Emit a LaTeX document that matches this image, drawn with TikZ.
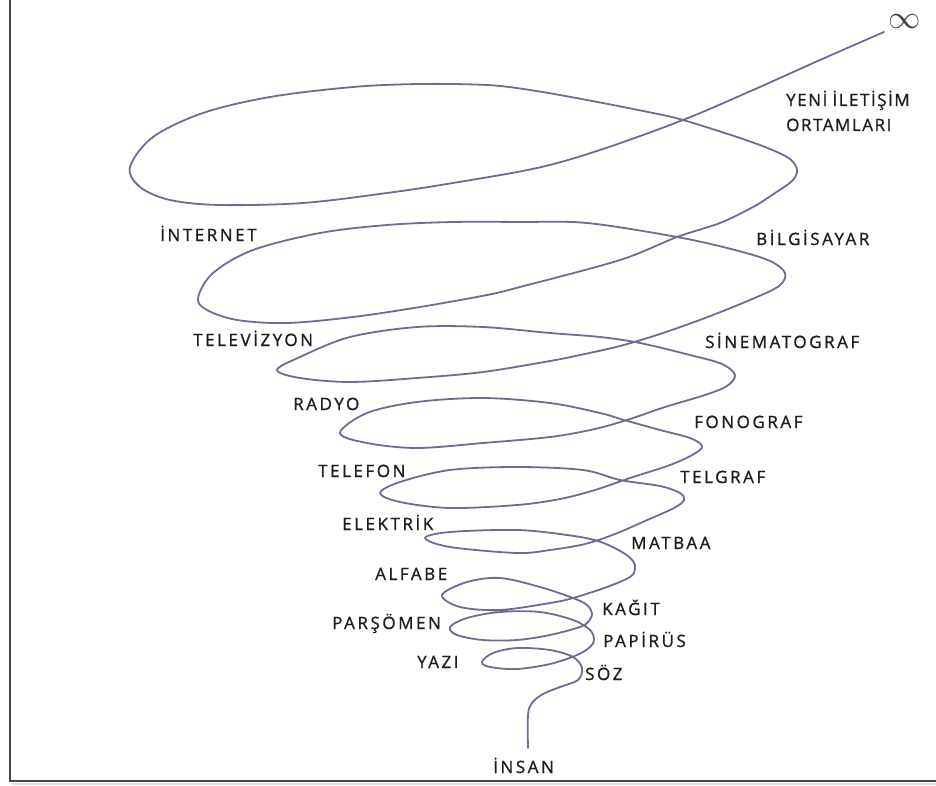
\documentclass[tikz,border=0pt]{standalone}
\usepackage{fontspec}
\setmainfont[LetterSpace=15,FakeBold=1]{Open Sans}
\newfontfamily\yenifont[LetterSpace=9,FakeBold=1]{Open Sans}
\definecolor{spiralc}{RGB}{108,108,150}
\definecolor{labelc}{RGB}{30,30,30}
\definecolor{framec}{RGB}{70,70,70}
\begin{document}
\begin{tikzpicture}[x=1pt,y=-1pt,
  lab/.style={anchor=base west, inner sep=0pt, font=\fontsize{17}{20}\selectfont, text=labelc},
  spiralline/.style={draw=spiralc, line width=1.8pt, line cap=round, line join=round}]
\useasboundingbox (0,0) rectangle (936,786);
\fill[white] (0,0) rectangle (936,786);
% frame
\draw[gray!25, line width=2pt] (12,783.5) -- (936,783.5);
\draw[framec, line width=2.2pt] (10,0) -- (10,781) -- (936,781);
% spiral
\draw[spiralline] plot[smooth, tension=0.55] coordinates {
 (884,32) (820,60) (753,90) (683,120) (600,150) (537,168) (453,183) (387,193) (303,203) (220,205) (170,200) (140,187) (130,167) (153,137) (203,113) (270,97) (353,87) (420,84) (487,85) (530,90) (587,100) (653,113) (683,120) (737,137) (770,149) (790,159) (797,170) (792,181) (772,195) (753,207) (720,223) (677,237) (620,260) (520,287) (487,295) (420,307) (353,317) (287,323) (237,320) (207,310) (198,298) (213,273) (253,250) (320,233) (387,225) (453,222) (520,222) (587,223) (677,237) (735,250) (770,261) (785,273) (779,286) (750,300)
 (705,318) (660,334) (620,346) (580,355) (550,361) (483,372) (417,378) (350,382) (300,378) (277,370) (300,357) (350,337) (417,327) (483,327) (550,333) (600,337) (640,343) (690,355) (722,364) (735,375) (727,386) (705,395)
 (665,407) (630,419) (595,429) (550,437) (483,443) (417,448) (367,443) (340,433) (367,413) (417,402) (483,398) (550,403) (600,413) (624,420) (660,430) (690,438) (702,446) (694,454) (670,465)
 (630,478) (595,490) (560,499) (517,505) (450,508) (400,502) (380,493) (400,482) (450,470) (517,467) (583,470) (620,480) (660,486) (680,493) (684,500) (674,508)
 (645,521) (615,534) (585,544) (550,550) (517,553) (450,547) (425,538) (450,532) (517,530) (567,535) (598,541) (622,552) (633,561) (635,569)
 (630,577) (607,587) (573,598) (550,603) (500,610) (460,607) (442,595) (467,582) (500,578) (540,587) (573,598) (587,605) (592,614)
 (588,622) (580,627) (550,635) (517,640) (483,640) (457,635) (450,627) (467,618) (500,612) (540,612) (573,620) (590,630) (594,640)
 (590,647) (577,655) (550,664) (517,669) (490,667) (482,662) (493,653) (517,648) (550,650) (573,657) (582,668)
 (578,680) (560,687) (543,694) (532,703) (528,715) (528,748)
};
% infinity
\node[inner sep=0pt, text=black!75, scale=1.3] (inf) at (905,22) {\Huge$\infty$};
% labels
\node[lab, font=\fontsize{17}{20}\yenifont] (yeni) at (786,106) {YENİ\hspace{0.3em}İLETİŞİM};
\node[lab, font=\fontsize{17}{20}\yenifont] (ortam) at (786,131) {ORTAMLARI};
\node[lab] (internet) at (160,241) {İNTERNET};
\node[lab] (bilgi) at (756,245) {BİLGİSAYAR};
\node[lab] (tv) at (193,346) {TELEVİZYON};
\node[lab] (sinema) at (705,348) {SİNEMATOGRAF};
\node[lab] (radyo) at (293,410) {RADYO};
\node[lab] (fono) at (694,428) {FONOGRAF};
\node[lab] (telefon) at (318,477) {TELEFON};
\node[lab] (telgraf) at (680,483) {TELGRAF};
\node[lab] (elektrik) at (342,530) {ELEKTRİK};
\node[lab] (matbaa) at (631,549) {MATBAA};
\node[lab] (alfabe) at (375,580) {ALFABE};
\node[lab] (kagit) at (602,615) {KAĞIT};
\node[lab] (parsomen) at (332,629) {PARŞÖMEN};
\node[lab] (papirus) at (603,647) {PAPİRÜS};
\node[lab] (yazi) at (417,668) {YAZI};
\node[lab] (soz) at (585,680) {SÖZ};
\node[lab] (insan) at (493,773) {İNSAN};
\end{tikzpicture}
\end{document}
